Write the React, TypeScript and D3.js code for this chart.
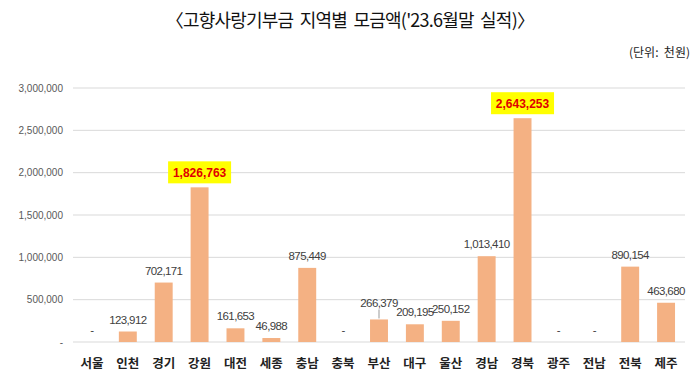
import * as d3 from "d3";

const regions = ["서울", "인천", "경기", "강원", "대전", "세종", "충남", "충북", "부산", "대구", "울산", "경남", "경북", "광주", "전남", "전북", "제주"];
const amounts = [0, 123912, 702171, 1826763, 161653, 46988, 875449, 0, 266379, 209195, 250152, 1013410, 2643253, 0, 0, 890154, 463680];
const highlighted = ["강원", "경북"];
const yTicks = [0, 500000, 1000000, 1500000, 2000000, 2500000, 3000000];

const title = "〈고향사랑기부금  지역별  모금액('23.6월말  실적)〉";
const unitNote = "(단위:  천원)";

const W = 700;
const H = 386;
const left = 74;
const right = 684;
const top = 88;
const bottom = 342;

const fmt = d3.format(",");
const label = (v: number) => (v === 0 ? "-" : fmt(v));

export default function App() {
  const x = d3.scaleBand<string>().domain(regions).range([left, right]).paddingInner(0.5).paddingOuter(0.25);
  const y = d3.scaleLinear().domain([0, 3000000]).range([bottom, top]);
  const bw = x.bandwidth();

  return (
    <svg width={W} height={H} style={{ position: "fixed", left: 0, top: 0, background: "#fff" }}
      fontFamily="'Liberation Sans', Arial, sans-serif">
      <text x={W / 2} y={27} textAnchor="middle" fontSize={18} fill="#111" style={{ whiteSpace: "pre" }}
        fontFamily="'Noto Sans CJK KR', sans-serif" letterSpacing={-0.8}>{title}</text>
      <text x={690} y={57} textAnchor="end" fontSize={12} fill="#222" style={{ whiteSpace: "pre" }}
        fontFamily="'Noto Sans CJK KR', sans-serif">{unitNote}</text>

      {yTicks.map((t) => (
        <g key={t}>
          {t > 0 && <line x1={left - 1} x2={right + 1} y1={y(t)} y2={y(t)} stroke="#d9d9d9" />}
          <text x={63} y={y(t) + 3.5} textAnchor="end" fontSize={10} fill="#595959">{label(t)}</text>
        </g>
      ))}
      <line x1={left - 1} x2={right + 1} y1={y(0)} y2={y(0)} stroke="#d9d9d9" />

      {regions.map((r, i) => {
        const v = amounts[i];
        const cx = (x(r) as number) + bw / 2;
        const isHi = highlighted.includes(r);
        const topY = y(v);
        return (
          <g key={r}>
            {v > 0 && <rect x={x(r)} y={topY} width={bw} height={y(0) - topY} fill="#F4B183" />}
            {isHi ? (
              <g>
                <rect x={cx - 31.5} y={topY - 26} width={63} height={22} fill="#ffff00" />
                <text x={cx} y={topY - 10.5} textAnchor="middle" fontSize={12} fontWeight="bold" fill="#e00000">{label(v)}</text>
              </g>
            ) : r === "부산" ? (
              <g>
                <line x1={cx} x2={cx} y1={topY - 1} y2={topY - 10} stroke="#999" />
                <text x={cx} y={topY - 12} textAnchor="middle" fontSize={11.5} fill="#404040" letterSpacing={-0.6}>{label(v)}</text>
              </g>
            ) : (
              <text x={cx} y={topY - 8} textAnchor="middle" fontSize={11.5} fill="#404040" letterSpacing={-0.6}>{label(v)}</text>
            )}
            <text x={cx} y={368} textAnchor="middle" fontSize={12.5} fontWeight="bold" fill="#222"
              fontFamily="'Noto Sans CJK KR', sans-serif">{r}</text>
          </g>
        );
      })}
    </svg>
  );
}
